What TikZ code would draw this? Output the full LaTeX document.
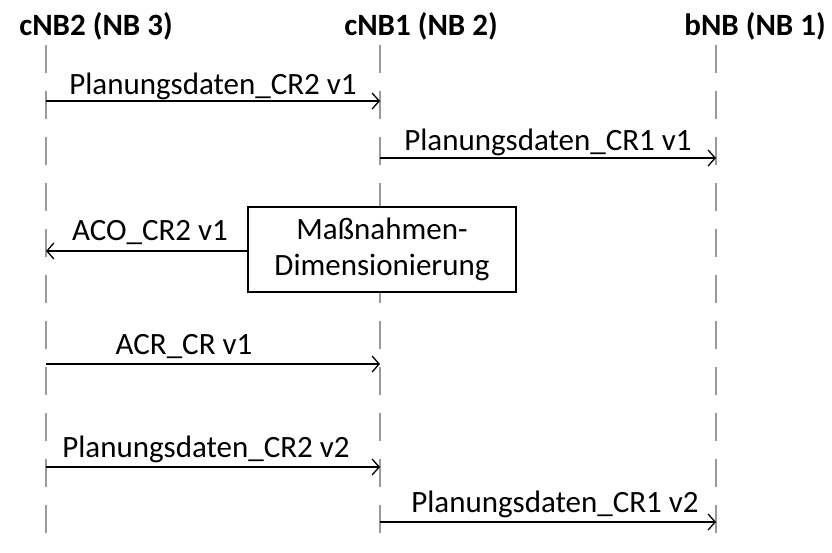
\documentclass[tikz,border=0pt]{standalone}
\usepackage{fontspec}
\setmainfont{Carlito}
\usetikzlibrary{arrows.meta}
\begin{document}
\begin{tikzpicture}[x=1pt,y=-1pt,
  hdr/.style={font=\bfseries\fontsize{31}{37}\selectfont, inner sep=0pt, anchor=base},
  lbl/.style={font=\fontsize{31}{37}\selectfont, inner sep=0pt, anchor=base},
  life/.style={draw=black!40, line width=1.5pt, dash pattern=on 28pt off 18pt},
  msg/.style={draw=black, line width=1.3pt, -{Straight Barb[length=7pt,width=16pt,line width=1.3pt]}},
  boxnode/.style={draw=black, line width=1.5pt, fill=white, minimum width=268pt, minimum height=85pt, align=center, font=\fontsize{31}{36}\selectfont, inner sep=0pt}
]
\useasboundingbox (0,0) rectangle (832,552);
% headers
\node[hdr] (h3) at (96,35) {cNB2 (NB 3)};
\node[hdr] (h2) at (421,35) {cNB1 (NB 2)};
\node[hdr] (h1) at (755,35) {bNB (NB 1)};
% lifeline end points
\coordinate (t3) at (46,45);  \coordinate (b3) at (46,537);
\coordinate (t2) at (380,45); \coordinate (b2) at (380,537);
\coordinate (t1) at (716,45); \coordinate (b1) at (716,537);
\draw[life] (t3) -- (b3);
\draw[life] (t2) -- (b2);
\draw[life] (t1) -- (b1);
% message points
\coordinate (m1s) at (46,101);  \coordinate (m1e) at (380,101);
\coordinate (m2s) at (380,158); \coordinate (m2e) at (716,158);
\coordinate (m3e) at (46,251);
\coordinate (m4s) at (46,364);  \coordinate (m4e) at (380,364);
\coordinate (m5s) at (46,467);  \coordinate (m5e) at (380,467);
\coordinate (m6s) at (380,522); \coordinate (m6e) at (716,522);
% box
\node[boxnode] (box) at (382,249.5) {Maßnahmen-\\Dimensionierung};
% messages
\draw[msg] (m1s) -- (m1e);
\draw[msg] (m2s) -- (m2e);
\draw[msg] (box.west |- m3e) -- (m3e);
\draw[msg] (m4s) -- (m4e);
\draw[msg] (m5s) -- (m5e);
\draw[msg] (m6s) -- (m6e);
% labels
\node[lbl] (l1) at (213,94) {Planungsdaten\_CR2 v1};
\node[lbl] (l2) at (548,150) {Planungsdaten\_CR1 v1};
\node[lbl] (l3) at (150,240) {ACO\_CR2 v1};
\node[lbl] (l4) at (184,354) {ACR\_CR v1};
\node[lbl] (l5) at (206,457) {Planungsdaten\_CR2 v2};
\node[lbl] (l6) at (555,512) {Planungsdaten\_CR1 v2};
\end{tikzpicture}
\end{document}
